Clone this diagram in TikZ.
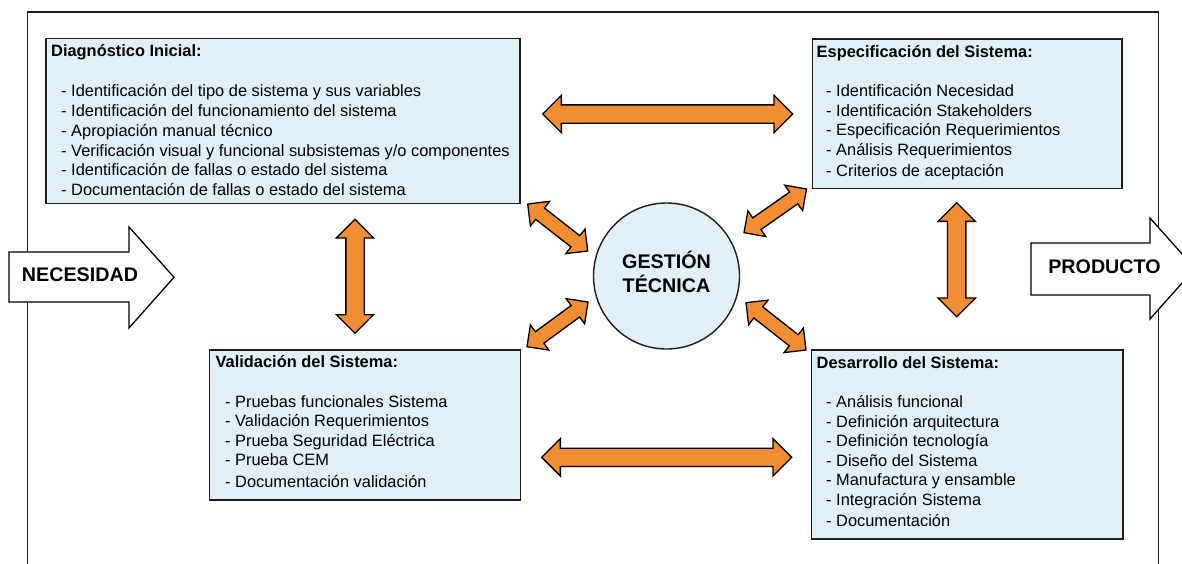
\documentclass[tikz,border=0pt]{standalone}
\usepackage{fontspec}
\setmainfont{Liberation Sans}
\usetikzlibrary{shapes.arrows,calc}
\definecolor{boxblue}{RGB}{225,239,247}
\definecolor{arroworange}{RGB}{241,141,50}
\definecolor{edgecol}{RGB}{30,30,30}
\tikzset{
  stagebox/.style={rectangle, draw=edgecol, line width=1.4pt, fill=boxblue, inner sep=0pt, outer sep=0pt, anchor=north west},
  titletext/.style={font=\fontsize{16.4}{19.5}\selectfont\bfseries, inner sep=0pt, anchor=base west},
  itemtext/.style={font=\fontsize{16.4}{19.5}\selectfont, inner sep=0pt, anchor=base west, align=left},
  itemwide/.style={itemtext, font=\fontsize{16.4}{19.8}\selectfont},
  bigtext/.style={font=\fontsize{19.7}{23.5}\selectfont\bfseries, inner sep=0pt},
  dblarrow/.style={double arrow, draw=black, line width=1.3pt, fill=arroworange, inner xsep=0pt, text height=0pt, text depth=0pt, minimum width=0pt, double arrow tip angle=90, outer sep=0pt},
  bigarrow/.style={dblarrow, inner ysep=8.5pt, double arrow head extend=9.5pt},
  smallarrow/.style={dblarrow, inner ysep=6.5pt, double arrow head extend=8.5pt},
  flowarrow/.style={draw=black, line width=1.3pt, fill=white},
}
\newcommand\linkarrow[3]{%
  \path let \p1=($(#3)-(#2)$), \n1={veclen(\x1,\y1)}, \n2={atan2(\y1,\x1)} in
    node[#1, minimum height=\n1, rotate=\n2] at ($(#2)!0.5!(#3)$) {};}
\begin{document}
\begin{tikzpicture}[x=1pt,y=-1pt]
\useasboundingbox (0,0) rectangle (1182,563);
\clip (0,0) rectangle (1182,563);
% outer frame
\draw[line width=1.3pt, edgecol] (27.7,12) rectangle (1158.5,620);
% boxes
\node[stagebox, minimum width=474, minimum height=165.2] (diag) at (46,38.3) {};
\node[stagebox, minimum width=309.5, minimum height=149.3] (esp) at (812.5,39) {};
\node[stagebox, minimum width=310.8, minimum height=150] (val) at (209.7,350) {};
\node[stagebox, minimum width=311.3, minimum height=189] (des) at (811.7,350) {};
% box texts (item nodes are anchored at the baseline of their last line)
\node[titletext] (diagT) at (51,56) {Diagnóstico Inicial:};
\node[itemwide] (diagI) at (61,195.7) {- Identificación del tipo de sistema y sus variables\\
- Identificación del funcionamiento del sistema\\
- Apropiación manual técnico\\
- Verificación visual y funcional subsistemas y/o componentes\\
- Identificación de fallas o estado del sistema\\
- Documentación de fallas o estado del sistema};
\node[titletext] (espT) at (816.5,57.3) {Especificación del Sistema:};
\node[itemtext] (espI) at (826,176.7) {- Identificación Necesidad\\
- Identificación Stakeholders\\
- Especificación Requerimientos\\
- Análisis Requerimientos\\[2.2pt]
- Criterios de aceptación};
\node[titletext] (valT) at (215.5,367.7) {Validación del Sistema:};
\node[itemtext] (valI) at (225,487.3) {- Pruebas funcionales Sistema\\
- Validación Requerimientos\\
- Prueba Seguridad Eléctrica\\
- Prueba CEM\\[2.2pt]
- Documentación validación};
\node[titletext] (desT) at (816.5,368) {Desarrollo del Sistema:};
\node[itemtext] (desI) at (826,526.7) {- Análisis funcional\\
- Definición arquitectura\\
- Definición tecnología\\
- Diseño del Sistema\\
- Manufactura y ensamble\\
- Integración Sistema\\[2.2pt]
- Documentación};
% central circle
\node[circle, draw=edgecol, line width=1.4pt, fill=boxblue, minimum size=146, inner sep=0pt] (gt) at (666.5,276) {};
\node[bigtext, anchor=base] (gt1) at (666.5,268.5) {GESTIÓN};
\node[bigtext, anchor=base] (gt2) at (666.5,292) {TÉCNICA};
% input / output arrows
\draw[flowarrow] (9,252) -- (129,252) -- (129,227) -- (174,277.3) -- (129,328) -- (129,302) -- (9,302) -- cycle;
\node[bigtext] (nec) at (80,275) {NECESIDAD};
\draw[flowarrow] (1031,243) -- (1150,243) -- (1150,218) -- (1195,268.5) -- (1150,319) -- (1150,295) -- (1031,295) -- cycle;
\node[bigtext] (prod) at (1104.5,267) {PRODUCTO};
% connector end points
\coordinate (hAa) at (542.7,114);   \coordinate (hAb) at (792.7,114);
\coordinate (hBa) at (541.7,457.3); \coordinate (hBb) at (791.7,457.3);
\coordinate (vAa) at (355,219.3);   \coordinate (vAb) at (355,333.3);
\coordinate (vBa) at (956.7,202.7); \coordinate (vBb) at (956.7,316.7);
\coordinate (dULa) at (527.7,204);  \coordinate (dULb) at (587.7,251);
\coordinate (dLLa) at (527,346.7);  \coordinate (dLLb) at (588,302);
\coordinate (dURa) at (744,232.7);  \coordinate (dURb) at (806.5,189);
\coordinate (dLRa) at (746,302.7);  \coordinate (dLRb) at (806,350);
% double arrows
\linkarrow{bigarrow}{hAa}{hAb}
\linkarrow{bigarrow}{hBa}{hBb}
\linkarrow{bigarrow}{vAa}{vAb}
\linkarrow{bigarrow}{vBa}{vBb}
\linkarrow{smallarrow}{dULa}{dULb}
\linkarrow{smallarrow}{dLLa}{dLLb}
\linkarrow{smallarrow}{dURa}{dURb}
\linkarrow{smallarrow}{dLRa}{dLRb}
\end{tikzpicture}
\end{document}
